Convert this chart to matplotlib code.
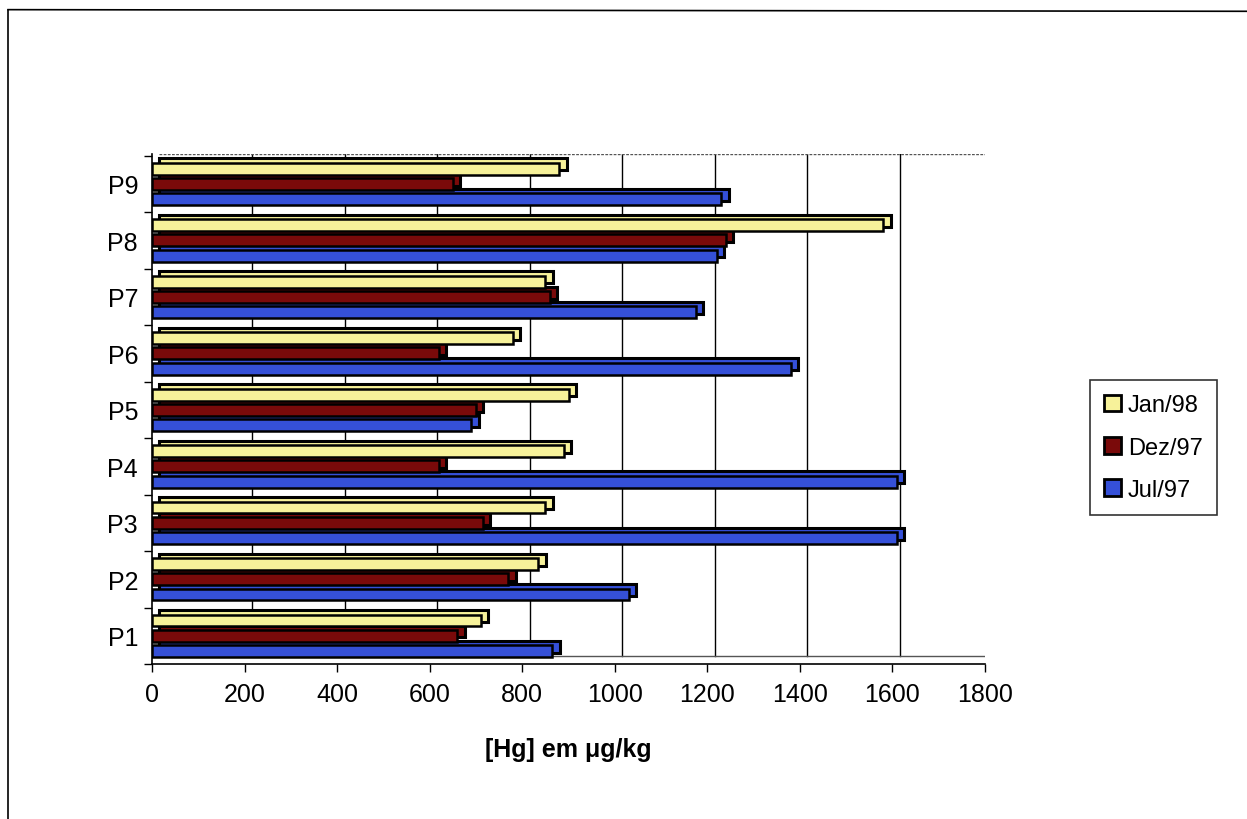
import matplotlib
matplotlib.use("Agg")
import matplotlib.pyplot as plt
from matplotlib.lines import Line2D
from matplotlib.patches import Patch
import numpy as np

# data
points = ["P1", "P2", "P3", "P4", "P5", "P6", "P7", "P8", "P9"]
jan98 = [710, 835, 850, 890, 900, 780, 850, 1580, 880]
dez97 = [660, 770, 715, 620, 700, 620, 860, 1240, 650]
jul97 = [865, 1030, 1610, 1610, 690, 1380, 1175, 1220, 1230]
x_ticks = [0, 200, 400, 600, 800, 1000, 1200, 1400, 1600, 1800]

series = [
    ("Jan/98", jan98, "#f7f29a", 0.27),
    ("Dez/97", dez97, "#7a0a0a", 0.0),
    ("Jul/97", jul97, "#3550d8", -0.27),
]

plt.rcParams['font.family'] = ['Liberation Sans', 'DejaVu Sans']

fig = plt.figure(figsize=(12.47, 8.2), dpi=100)
ax = fig.add_axes([0.1219, 0.189, 0.668, 0.622])

y = np.arange(len(points))
h = 0.21
dx, dy = 16, 0.075  # fake 3d depth, in data units

# back wall gridlines (shifted like the excel 3d wall)
for t in x_ticks[1:]:
    ax.plot([t + dx, t + dx], [-0.44 + dy, 8.53], color="black", lw=1.0, zorder=0)
ax.plot([dx, 1800 + dx], [8.53, 8.53], color="#555555", lw=1.0, ls=(0, (2, 1)), zorder=0)
ax.plot([1800 + dx, 1800 + dx], [-0.44 + dy, 8.53], color="#555555", lw=1.0, ls=(0, (2, 1)), zorder=0)
ax.plot([dx, 1800 + dx], [-0.44 + dy, -0.44 + dy], color="#555555", lw=1.0, zorder=0)

for k, (name, vals, col, off) in enumerate(series):
    z = 10 - 2 * k  # upper bars sit in front of lower ones
    # depth part (top face + end cap)
    ax.barh(y + off + dy, vals, height=h, left=dx, color=col, edgecolor="black",
            linewidth=2.2, zorder=z)
    ax.barh(y + off, vals, height=h, color=col, edgecolor="black", linewidth=1.8, zorder=z + 0.5)

ax.set_xlim(0, 1800)
ax.set_ylim(-0.44, 8.53)
ax.set_xticks(x_ticks)
ax.set_xticklabels([str(t) for t in x_ticks], fontsize=18)
ax.set_yticks(y)
ax.set_yticklabels(points, fontsize=18)
ax.set_yticks(np.arange(-0.5, 8.6, 1.0), minor=True)
ax.tick_params(axis="y", which="major", length=0, pad=10)
ax.tick_params(axis="y", which="minor", length=6, width=1, direction="out")
ax.tick_params(axis="x", length=6, width=1, direction="out", pad=7)
for s in ["top", "right"]:
    ax.spines[s].set_visible(False)
ax.spines["left"].set_linewidth(1.2)
ax.spines["bottom"].set_linewidth(1.2)
ax.set_facecolor("none")

ax.set_xlabel("[Hg] em \u03bcg/kg", fontsize=18, fontweight="bold", labelpad=22)

handles = [Patch(facecolor=col, edgecolor="black", linewidth=2.0, label=name)
           for name, vals, col, off in series]
leg = fig.legend(handles=handles, loc="center left", bbox_to_anchor=(0.874, 0.453),
                 fontsize=17, frameon=True, fancybox=False, edgecolor="black",
                 handlelength=0.7, handleheight=0.7, handletextpad=0.3,
                 borderpad=0.6, labelspacing=0.85, borderaxespad=0)
leg.get_frame().set_linewidth(1.2)

# outer frame of the chart area
fig.add_artist(Line2D([0.0065, 1.0], [0.987, 0.985], transform=fig.transFigure, color="black", lw=1.2))
fig.add_artist(Line2D([0.0065, 0.0065], [0.987, 0.0], transform=fig.transFigure, color="black", lw=1.2))

fig.savefig("out.png", dpi=100)
